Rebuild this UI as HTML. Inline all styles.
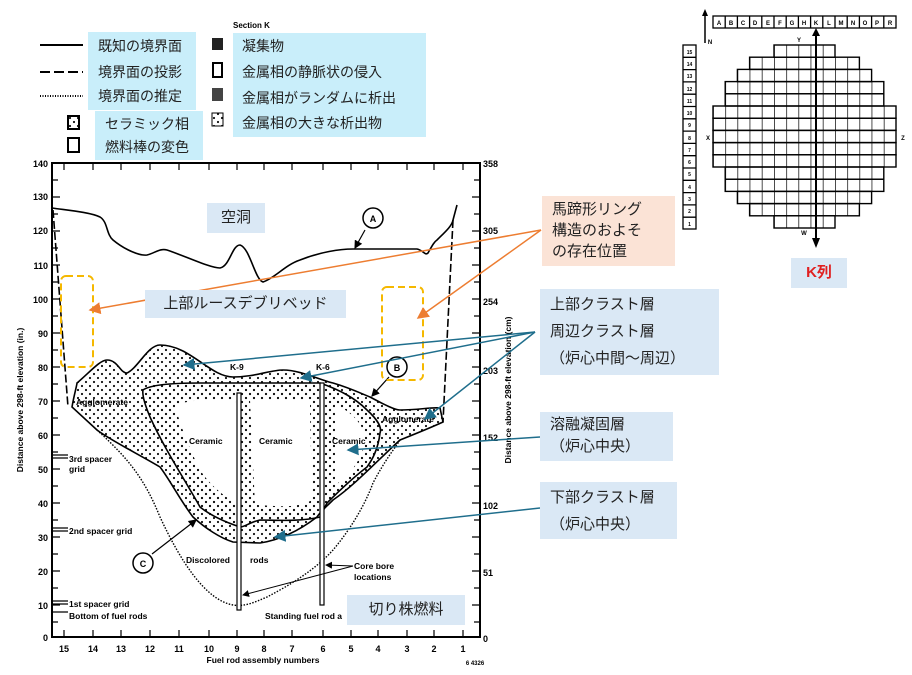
<!DOCTYPE html>
<html><head><meta charset="utf-8"><style>
body{margin:0;width:912px;height:675px;background:#fff;position:relative;overflow:hidden;font-family:"Liberation Sans","Noto Sans CJK JP",sans-serif}
.b{position:absolute;color:#222}
.lc{background:#c9eefa}
.lb{background:#dae8f5}
.jp{font-size:14px}
</style></head><body>
<svg width="912" height="675" style="position:absolute;left:0;top:0" font-family="Liberation Sans, sans-serif">
<defs>
<pattern id="dots" width="8" height="8" patternUnits="userSpaceOnUse"><circle cx="2" cy="2" r="1.1" fill="#111"/><circle cx="6" cy="6" r="1.1" fill="#111"/></pattern>
<pattern id="vl" x="713" y="0" width="12.2" height="20" patternUnits="userSpaceOnUse"><line x1="0" y1="0" x2="0" y2="20" stroke="#000" stroke-width="1.4"/></pattern>
<marker id="ao" markerWidth="8" markerHeight="8" refX="7" refY="4" orient="auto"><path d="M0,0 L8,4 L0,8 Z" fill="#ed7d31"/></marker>
<marker id="ab" markerWidth="8" markerHeight="8" refX="7" refY="4" orient="auto"><path d="M0,0 L8,4 L0,8 Z" fill="#1f6e8c"/></marker>
<marker id="ak" markerWidth="7" markerHeight="7" refX="6" refY="3.5" orient="auto"><path d="M0,0 L7,3.5 L0,7 Z" fill="#000"/></marker>
</defs>
<!-- legend lines -->
<line x1="40" y1="45" x2="83" y2="45" stroke="#000" stroke-width="2"/>
<line x1="40" y1="72" x2="83" y2="72" stroke="#000" stroke-width="2" stroke-dasharray="10,4"/>
<line x1="40" y1="96" x2="83" y2="96" stroke="#000" stroke-width="2" stroke-dasharray="1,1.5"/>
<text x="233" y="28" font-size="8" font-weight="bold">Section K</text>
<rect x="212" y="38" width="11" height="12" fill="#222"/>
<rect x="213" y="63" width="9" height="14" fill="none" stroke="#000" stroke-width="2"/>
<rect x="212" y="88" width="11" height="13" fill="#444"/>
<rect x="212" y="113" width="11" height="13" fill="url(#dots)" stroke="#000"/>
<rect x="68" y="116" width="11" height="13" fill="url(#dots)" stroke="#000" stroke-width="2"/>
<rect x="68" y="138" width="11" height="14" fill="none" stroke="#000" stroke-width="2"/>
<!-- frame -->
<rect x="52" y="163" width="428" height="474" fill="none" stroke="#000" stroke-width="2"/>
<g stroke="#000" stroke-width="1.2">
<path d="M52,180h6M52,197h8M52,214h6M52,231h8M52,248h6M52,265h8M52,282h6M52,299h8M52,316h6M52,333h8M52,350h6M52,367h8M52,384h6M52,401h8M52,418h6M52,435h8M52,452h6M52,469h8M52,486h6M52,503h8M52,520h6M52,537h8M52,554h6M52,571h8M52,588h6M52,605h8M52,622h6"/>
<path d="M480,180h-6M480,197h-8M480,214h-6M480,231h-8M480,248h-6M480,265h-8M480,282h-6M480,299h-8M480,316h-6M480,333h-8M480,350h-6M480,367h-8M480,384h-6M480,401h-8M480,418h-6M480,435h-8M480,452h-6M480,469h-8M480,486h-6M480,503h-8M480,520h-6M480,537h-8M480,554h-6M480,571h-8M480,588h-6M480,605h-8M480,622h-6"/>
<path d="M64,163v7M93,163v7M121,163v7M150,163v7M179,163v7M209,163v7M237,163v7M264,163v7M292,163v7M323,163v7M351,163v7M378,163v7M407,163v7M434,163v7M463,163v7"/>
<path d="M64,637v-7M93,637v-7M121,637v-7M150,637v-7M179,637v-7M209,637v-7M237,637v-7M264,637v-7M292,637v-7M323,637v-7M351,637v-7M378,637v-7M407,637v-7M434,637v-7M463,637v-7"/>
<path d="M52,455h16M52,458h16M52,528h16M52,531h16M52,601h16M52,604h16M52,612h16"/>
</g>
<g font-size="9" font-weight="bold" text-anchor="end">
<text x="48" y="167">140</text><text x="48" y="200">130</text><text x="48" y="234">120</text><text x="48" y="269">110</text><text x="48" y="303">100</text><text x="48" y="337">90</text><text x="48" y="371">80</text><text x="48" y="405">70</text><text x="48" y="439">60</text><text x="48" y="473">50</text><text x="48" y="507">40</text><text x="48" y="541">30</text><text x="48" y="575">20</text><text x="48" y="609">10</text><text x="48" y="641">0</text>
</g>
<g font-size="9" font-weight="bold">
<text x="483" y="167">358</text><text x="483" y="234">305</text><text x="483" y="305">254</text><text x="483" y="374">203</text><text x="483" y="441">152</text><text x="483" y="509">102</text><text x="483" y="576">51</text><text x="483" y="642">0</text>
</g>
<g font-size="9" font-weight="bold" text-anchor="middle">
<text x="64" y="652">15</text><text x="93" y="652">14</text><text x="121" y="652">13</text><text x="150" y="652">12</text><text x="179" y="652">11</text><text x="209" y="652">10</text><text x="237" y="652">9</text><text x="264" y="652">8</text><text x="292" y="652">7</text><text x="323" y="652">6</text><text x="351" y="652">5</text><text x="378" y="652">4</text><text x="407" y="652">3</text><text x="434" y="652">2</text><text x="463" y="652">1</text>
<text x="263" y="663" font-size="8.5">Fuel rod assembly numbers</text>
<text x="475" y="665" font-size="6">6 4326</text>
</g>
<text transform="translate(23,400) rotate(-90)" font-size="8.5" font-weight="bold" text-anchor="middle">Distance above 298-ft elevation (in.)</text>
<text transform="translate(511,390) rotate(-90)" font-size="8.5" font-weight="bold" text-anchor="middle">Distance above 298-ft elevation (cm)</text>
<!-- A boundary -->
<path d="M52,208 C65,210 90,212 100,217 C108,222 106,234 113,240 C125,250 140,256 147,255 C155,253 160,248 167,250 C185,256 210,268 220,268 C230,266 232,245 240,245 C250,248 255,280 263,282 C275,278 285,265 300,260 C320,252 340,249 353,249 L417,249 C423,250 425,256 428,253 C432,246 434,242 437,240 C445,232 452,226 453,220 L457,205" fill="none" stroke="#000" stroke-width="1.6"/>
<path d="M53,210 L68,407" fill="none" stroke="#000" stroke-width="1.6" stroke-dasharray="8,3"/>
<path d="M453,220 L443,422" fill="none" stroke="#000" stroke-width="1.6" stroke-dasharray="8,3"/>
<!-- crust region -->
<path d="M72,407 C74,395 77,385 77,383 C90,372 100,360 107,360 C118,360 120,373 127,373 C138,368 148,345 160,345 C190,345 210,377 233,377 C255,377 270,370 283,370 C300,370 320,380 333,383 C350,388 360,393 370,397 C385,405 395,410 400,410 C420,410 430,407 440,408 L443,422 C430,428 410,436 400,440 C380,458 355,485 333,500 C325,508 320,512 317,517 C300,530 280,540 260,543 L233,542 C220,538 205,528 193,517 C180,500 170,480 160,467 C140,455 110,440 97,430 Z" fill="url(#dots)" stroke="#000" stroke-width="1.6"/>
<!-- inner ceramic -->
<path d="M143,390 C150,385 170,383 200,383 L320,383 C340,390 355,398 367,410 C378,420 382,428 380,433 C378,450 372,460 367,467 C350,480 335,495 327,503 C323,510 322,515 320,517 C300,522 275,520 260,520 C250,522 245,527 240,527 C225,522 210,515 200,507 C185,480 165,450 150,417 C145,405 142,395 143,390 Z" fill="url(#dots)" stroke="#000" stroke-width="1.6"/>
<path d="M175,405 C190,400 215,398 235,400 L240,505 C225,498 210,485 200,470 C190,450 180,425 175,405 Z" fill="#fff"/>
<path d="M250,400 L310,400 C310,430 312,470 312,500 C295,510 270,505 255,505 Z" fill="#fff"/>
<path d="M335,405 C350,410 365,425 365,440 C362,460 350,475 335,485 Z" fill="#fff"/>
<!-- dotted estimated -->
<path d="M97,430 C130,460 145,480 160,517 C180,560 205,600 233,605 C245,607 255,602 267,597 C290,585 315,570 333,550 C350,530 365,505 373,483 C385,460 395,448 400,440" fill="none" stroke="#000" stroke-width="1.4" stroke-dasharray="1.5,1.5"/>
<!-- rods -->
<rect x="237" y="393" width="4" height="217" fill="#fff" stroke="#000" stroke-width="1.2"/>
<rect x="320" y="383" width="4" height="222" fill="#fff" stroke="#000" stroke-width="1.2"/>
<!-- circles -->
<circle cx="373" cy="218" r="10" fill="#fff" stroke="#000" stroke-width="1.5"/><text x="373" y="222" font-size="9" font-weight="bold" text-anchor="middle">A</text>
<circle cx="397" cy="367" r="10" fill="#fff" stroke="#000" stroke-width="1.5"/><text x="397" y="371" font-size="9" font-weight="bold" text-anchor="middle">B</text>
<circle cx="143" cy="563" r="10" fill="#fff" stroke="#000" stroke-width="1.5"/><text x="143" y="567" font-size="9" font-weight="bold" text-anchor="middle">C</text>
<line x1="365" y1="230" x2="355" y2="248" stroke="#000" stroke-width="1.2" marker-end="url(#ak)"/>
<line x1="389" y1="377" x2="372" y2="396" stroke="#000" stroke-width="1.2" marker-end="url(#ak)"/>
<line x1="152" y1="554" x2="196" y2="520" stroke="#000" stroke-width="1.2" marker-end="url(#ak)"/>
<line x1="353" y1="566" x2="326" y2="565" stroke="#000" stroke-width="1" marker-end="url(#ak)"/>
<line x1="353" y1="566" x2="243" y2="595" stroke="#000" stroke-width="1" marker-end="url(#ak)"/>
<g font-size="8.5" font-weight="bold">
<text x="230" y="370">K-9</text><text x="316" y="370">K-6</text>
<text x="76" y="405">Agglomerate</text><text x="382" y="422">Agglomerate</text>
<text x="189" y="444">Ceramic</text><text x="259" y="444">Ceramic</text><text x="332" y="444">Ceramic</text>
<text x="69" y="462">3rd spacer</text><text x="69" y="472">grid</text>
<text x="69" y="534">2nd spacer grid</text>
<text x="69" y="607">1st spacer grid</text><text x="69" y="619">Bottom of fuel rods</text>
<text x="186" y="563">Discolored</text><text x="250" y="563">rods</text>
<text x="354" y="569">Core bore</text><text x="354" y="580">locations</text>
<text x="265" y="619">Standing fuel rod a</text>
</g>
<!-- orange dashed boxes -->
<rect x="61" y="276" width="32" height="91" rx="5" fill="none" stroke="#f5b800" stroke-width="2" stroke-dasharray="7,4"/>
<rect x="382" y="287" width="41" height="93" rx="5" fill="none" stroke="#f5b800" stroke-width="2" stroke-dasharray="7,4"/>
<!-- arrows -->
<line x1="541" y1="230" x2="90" y2="310" stroke="#ed7d31" stroke-width="1.5" marker-end="url(#ao)"/>
<line x1="541" y1="230" x2="418" y2="318" stroke="#ed7d31" stroke-width="1.5" marker-end="url(#ao)"/>
<line x1="535" y1="332" x2="184" y2="365" stroke="#1f6e8c" stroke-width="1.5" marker-end="url(#ab)"/>
<line x1="535" y1="332" x2="301" y2="378" stroke="#1f6e8c" stroke-width="1.5" marker-end="url(#ab)"/>
<line x1="535" y1="332" x2="425" y2="419" stroke="#1f6e8c" stroke-width="1.5" marker-end="url(#ab)"/>
<line x1="540" y1="437" x2="348" y2="450" stroke="#1f6e8c" stroke-width="1.5" marker-end="url(#ab)"/>
<line x1="540" y1="508" x2="275" y2="537" stroke="#1f6e8c" stroke-width="1.5" marker-end="url(#ab)"/>
<!-- mini map -->
<g stroke="#000" fill="none" stroke-width="1.3">
<rect x="713" y="16" width="183" height="12"/>
<path d="M725.2,16v12M737.4,16v12M749.6,16v12M761.8,16v12M774,16v12M786.2,16v12M798.4,16v12M810.6,16v12M822.8,16v12M835,16v12M847.2,16v12M859.4,16v12M871.6,16v12M883.8,16v12"/>
<rect x="683" y="45" width="13" height="184"/>
<path d="M683,57.3h13M683,69.6h13M683,81.9h13M683,94.2h13M683,106.5h13M683,118.8h13M683,131.1h13M683,143.4h13M683,155.7h13M683,168h13M683,180.3h13M683,192.6h13M683,204.9h13M683,217.2h13"/>
</g>
<g stroke="#000" stroke-width="1.4" fill="url(#vl)">
<rect x="774" y="45" width="61" height="12.2"/>
<rect x="749.6" y="57.2" width="109.8" height="12.2"/>
<rect x="737.4" y="69.4" width="134.2" height="12.2"/>
<rect x="725.2" y="81.6" width="158.6" height="12.2"/>
<rect x="725.2" y="93.8" width="158.6" height="12.2"/>
<rect x="713" y="106" width="183" height="12.2"/>
<rect x="713" y="118.2" width="183" height="12.2"/>
<rect x="713" y="130.4" width="183" height="12.2"/>
<rect x="713" y="142.6" width="183" height="12.2"/>
<rect x="713" y="154.8" width="183" height="12.2"/>
<rect x="725.2" y="167" width="158.6" height="12.2"/>
<rect x="725.2" y="179.2" width="158.6" height="12.2"/>
<rect x="737.4" y="191.4" width="134.2" height="12.2"/>
<rect x="749.6" y="203.6" width="109.8" height="12.2"/>
<rect x="774" y="215.8" width="61" height="12.2"/>
</g>
<g font-size="6" font-weight="bold" text-anchor="middle">
<text x="719" y="25">A</text><text x="731" y="25">B</text><text x="743" y="25">C</text><text x="755" y="25">D</text><text x="768" y="25">E</text><text x="780" y="25">F</text><text x="792" y="25">G</text><text x="804" y="25">H</text><text x="816" y="25">K</text><text x="829" y="25">L</text><text x="841" y="25">M</text><text x="853" y="25">N</text><text x="865" y="25">O</text><text x="877" y="25">P</text><text x="890" y="25">R</text>
<text x="710" y="44">N</text>
<text x="799" y="42">Y</text><text x="804" y="235">W</text><text x="708" y="140">X</text><text x="903" y="140">Z</text>
</g>
<g font-size="5" font-weight="bold" text-anchor="middle">
<text x="689.5" y="54">15</text><text x="689.5" y="66">14</text><text x="689.5" y="78">13</text><text x="689.5" y="91">12</text><text x="689.5" y="103">11</text><text x="689.5" y="115">10</text><text x="689.5" y="127">9</text><text x="689.5" y="140">8</text><text x="689.5" y="152">7</text><text x="689.5" y="164">6</text><text x="689.5" y="176">5</text><text x="689.5" y="189">4</text><text x="689.5" y="201">3</text><text x="689.5" y="213">2</text><text x="689.5" y="226">1</text>
</g>
<line x1="816" y1="244" x2="816" y2="36" stroke="#000" stroke-width="2"/>
<path d="M812,36 L816,28 L820,36Z M812,238 L816,248 L820,238Z" fill="#000"/>
<line x1="705" y1="43" x2="705" y2="14" stroke="#000" stroke-width="1.5"/>
<path d="M702,16 L705,9 L708,16Z" fill="#000"/>
</svg>
<!-- legend boxes -->
<div class="b lc" style="left:88px;top:32px;width:108px;height:78px"></div>
<div class="b lc" style="left:95px;top:111px;width:108px;height:49px"></div>
<div class="b lc" style="left:233px;top:33px;width:193px;height:104px"></div>
<div class="b jp" style="left:98px;top:36px">既知の境界面</div>
<div class="b jp" style="left:98px;top:62px">境界面の投影</div>
<div class="b jp" style="left:98px;top:86px">境界面の推定</div>
<div class="b jp" style="left:105px;top:114px">セラミック相</div>
<div class="b jp" style="left:105px;top:137px">燃料棒の変色</div>
<div class="b jp" style="left:242px;top:36px">凝集物</div>
<div class="b jp" style="left:242px;top:62px">金属相の静脈状の侵入</div>
<div class="b jp" style="left:242px;top:88px">金属相がランダムに析出</div>
<div class="b jp" style="left:242px;top:113px">金属相の大きな析出物</div>
<div class="b lb jp" style="left:207px;top:203px;width:58px;height:30px;line-height:30px;text-align:center;font-size:15px">空洞</div>
<div class="b lb jp" style="left:145px;top:290px;width:201px;height:28px;line-height:28px;text-align:center;font-size:15px">上部ルースデブリベッド</div>
<div class="b lb jp" style="left:347px;top:595px;width:118px;height:30px;line-height:30px;text-align:center;font-size:15px">切り株燃料</div>
<div class="b jp" style="left:542px;top:196px;width:133px;height:70px;background:#fbe3d6;padding:3px 0 0 10px;box-sizing:border-box;line-height:21px;font-size:15px">馬蹄形リング<br>構造のおよそ<br>の存在位置</div>
<div class="b lb jp" style="left:540px;top:289px;width:179px;height:86px;padding:2px 0 0 10px;box-sizing:border-box;line-height:27px;font-size:15px">上部クラスト層<br>周辺クラスト層<br>（炉心中間～周辺）</div>
<div class="b lb jp" style="left:540px;top:412px;width:133px;height:49px;padding:2px 0 0 10px;box-sizing:border-box;line-height:22px;font-size:15px">溶融凝固層<br>（炉心中央）</div>
<div class="b lb jp" style="left:540px;top:482px;width:137px;height:57px;padding:2px 0 0 10px;box-sizing:border-box;line-height:27px;font-size:15px">下部クラスト層<br>（炉心中央）</div>
<div class="b lb" style="left:791px;top:258px;width:56px;height:30px;line-height:30px;text-align:center;color:#e02020;font-weight:bold;font-size:15px;font-family:'Liberation Sans','Noto Sans CJK JP',sans-serif">K列</div>
</body></html>
